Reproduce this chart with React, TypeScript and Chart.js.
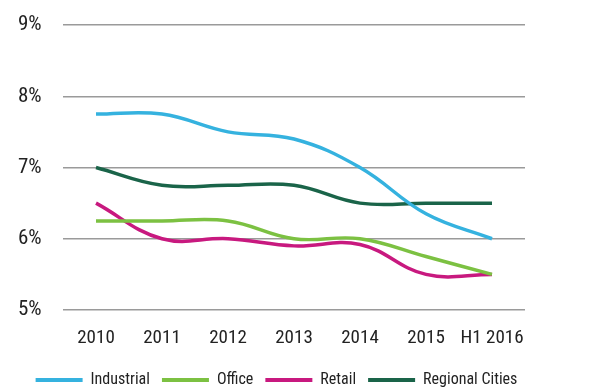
import React, { useEffect, useRef } from "react";
import { Chart, registerables } from "chart.js";

Chart.register(...registerables);

const categories = ["2010", "2011", "2012", "2013", "2014", "2015", "H1 2016"];
const industrial = [7.75, 7.75, 7.5, 7.4, 7.0, 6.35, 6.0];
const office = [6.25, 6.25, 6.25, 6.0, 6.0, 5.75, 5.5];
const retail = [6.5, 6.0, 6.0, 5.9, 5.92, 5.5, 5.5];
const regional = [7.0, 6.75, 6.75, 6.75, 6.5, 6.5, 6.5];
const yTicks = [5, 6, 7, 8, 9];

const FONT = "'Roboto Condensed', 'Liberation Sans', sans-serif";

export default function App() {
  const ref = useRef<HTMLCanvasElement>(null);
  useEffect(() => {
    document.body.style.margin = "0";
    const ctx = ref.current!;
    const mk = (label: string, data: number[], color: string) => ({
      label,
      data,
      borderColor: color,
      backgroundColor: color,
      borderWidth: 3.5,
      pointRadius: 0,
      tension: 0.4,
      fill: false,
    });
    const chart = new Chart(ctx, {
      type: "line",
      data: {
        labels: categories,
        datasets: [
          mk("Industrial", industrial, "#35b2df"),
          mk("Office", office, "#7cc142"),
          mk("Retail", retail, "#c8197f"),
          mk("Regional Cities", regional, "#1a6449"),
        ],
      },
      plugins: [
        {
          id: "shiftLegend",
          afterLayout(c: any) {
            const l = c.legend;
            if (l) {
              l.left += 5;
              l.right += 5;
              l.top += 8;
              l.bottom += 8;
            }
          },
        },
      ],
      options: {
        animation: false,
        responsive: false,
        layout: { autoPadding: false, padding: { top: 25, right: 75, left: 18, bottom: 0 } },
        plugins: {
          tooltip: { enabled: false },
          legend: {
            position: "bottom",
            labels: {
              font: { family: FONT, size: 16 },
              color: "#222",
              boxWidth: 47,
              boxHeight: 4,
              padding: 12,
              generateLabels: (c: any) =>
                c.data.datasets.map((d: any, i: number) => ({
                  text: d.label,
                  fillStyle: d.borderColor,
                  strokeStyle: d.borderColor,
                  lineWidth: 0,
                  fontColor: "#222",
                  datasetIndex: i,
                  hidden: false,
                })),
            },
          },
        },
        scales: {
          x: {
            offset: true,
            afterFit: (s: any) => {
              s.height = 42;
            },
            grid: { display: false, drawTicks: false },
            border: { display: false },
            ticks: {
              font: { family: FONT, size: 19 },
              color: "#222",
              padding: 17,
              maxRotation: 0,
              autoSkip: false,
            },
          },
          y: {
            min: 5,
            max: 9,
            afterFit: (s: any) => {
              s.width = 45;
            },
            afterBuildTicks: (s: any) => {
              s.ticks = yTicks.map((v) => ({ value: v }));
            },
            grid: { color: "#9a9a9a", lineWidth: 1.5, drawTicks: false },
            border: { display: false },
            ticks: {
              font: { family: FONT, size: 21 },
              color: "#222",
              padding: 0,
              crossAlign: "far",
              callback: (v: any) => v + "%",
            },
          },
        },
      },
    });
    return () => chart.destroy();
  }, []);
  return (
    <div style={{ width: 600, height: 390 }}>
      <canvas ref={ref} width={600} height={390} />
    </div>
  );
}
